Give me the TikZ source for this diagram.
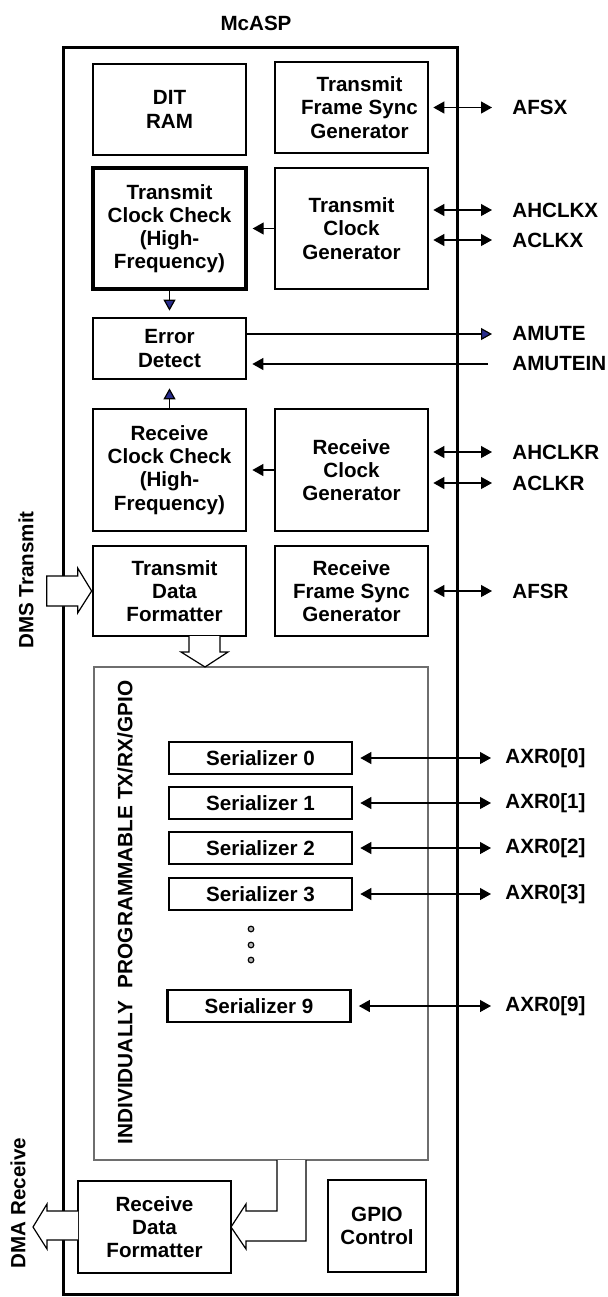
\documentclass[tikz,border=0pt]{standalone}
\usepackage{fontspec}
\setmainfont{Liberation Sans}
\usetikzlibrary{arrows.meta,calc}
\definecolor{navy}{RGB}{40,44,140}
\definecolor{progray}{RGB}{110,110,110}
\begin{document}
\begin{tikzpicture}[x=0.5pt,y=-0.5pt,
 txt/.style={font=\fontsize{10.3}{11.6}\selectfont\bfseries},
 blk/.style={draw, line width=1.35pt, align=center, inner sep=0pt, txt},
 col/.style={minimum width=76.5pt},
 ser/.style={blk, minimum width=91.5pt, minimum height=16pt},
 conn/.style={line width=0.6pt},
 tip/.style={-{Triangle[length=5.5pt,width=6pt]}},
 dbl/.style={conn,{Triangle[length=5.5pt,width=6pt]}-{Triangle[length=5.5pt,width=6pt]}, shorten <=2pt},
 bluetip/.style={conn,-{Triangle[length=5.5pt,width=6pt,fill=navy]}},
 hollow/.style={line width=0.6pt, fill=white},
 sig/.style={txt, anchor=west, inner sep=0pt},
 vtxt/.style={txt, rotate=90, inner sep=0pt},
]
\useasboundingbox (0,0) rectangle (608,1297);

\node[txt] (mcasp) at (256,23) {McASP};
\node[draw, line width=1.5pt, minimum width=197pt, minimum height=623.5pt, inner sep=0pt] (outer) at (260,670.5) {};

% blocks
\node[blk, col, minimum height=45.5pt] (dit) at (169.5,109.5) {DIT\\RAM};
\node[blk, col, minimum height=45.5pt] (tfsg) at (351.5,107.5) {\hspace*{8pt}Transmit\\\hspace*{8pt}Frame Sync\\\hspace*{8pt}Generator};
\node[blk, col, minimum height=60.5pt, line width=1.7pt] (tcc) at (169.5,228.5) {Transmit\\Clock Check\\(High-\\Frequency)};
\node[blk, col, minimum height=60.5pt] (tcg) at (351.5,228.5) {Transmit\\Clock\\Generator};
\node[blk, col, minimum height=30.5pt] (err) at (169.5,348.5) {Error\\Detect};
\node[blk, col, minimum height=61pt] (rcc) at (169.5,470) {Receive\\Clock Check\\(High-\\Frequency)};
\node[blk, col, minimum height=61pt] (rcg) at (351.5,470) {Receive\\Clock\\Generator};
\node[blk, col, minimum height=45pt] (tdf) at (169.5,591) {\hspace*{5pt}Transmit\\\hspace*{5pt}Data\\\hspace*{5pt}Formatter};
\node[blk, col, minimum height=45pt] (rfsg) at (351.5,591) {Receive\\Frame Sync\\Generator};

\node[draw=progray, line width=0.6pt, minimum width=167pt, minimum height=246.5pt, inner sep=0pt] (prog) at (261,913.5) {};
\node[vtxt, font=\fontsize{10.4}{12}\selectfont\bfseries] (progtxt) at (125,912.5) {INDIVIDUALLY\hspace{0.6em}PROGRAMMABLE TX/RX/GPIO};

\node[ser] (s0) at (260.5,758) {Serializer 0};
\node[ser] (s1) at (260.5,803) {Serializer 1};
\node[ser] (s2) at (260.5,848) {Serializer 2};
\node[ser] (s3) at (260.5,894) {Serializer 3};
\node[ser] (s9) at (259,1006) {Serializer 9};
\foreach \yy in {929,945,960}
  \draw[line width=0.6pt, fill=gray!55] (251,\yy) circle (2.8);

\node[blk, col, minimum height=46pt] (rdf) at (154.5,1227) {Receive\\Data\\Formatter};
\node[blk, minimum width=49pt, minimum height=46pt] (gpio) at (377,1226) {GPIO\\Control};

% side texts
\node[vtxt] (dms) at (26,580) {DMS Transmit};
\node[vtxt] (dma) at (18,1203) {DMA Receive};

% signal labels
\node[sig] (afsx) at (512,107.5) {AFSX};
\node[sig] (ahclkx) at (512,210) {AHCLKX};
\node[sig] (aclkx) at (512,240) {ACLKX};
\node[sig] (amute) at (512,334) {AMUTE};
\node[sig] (amutein) at (512,364) {AMUTEIN};
\node[sig] (ahclkr) at (512,452) {AHCLKR};
\node[sig] (aclkr) at (512,483) {ACLKR};
\node[sig] (afsr) at (512,591) {AFSR};
\node[sig] (x0) at (505,758) {AXR0[0]};
\node[sig] (x1) at (505,803) {AXR0[1]};
\node[sig] (x2) at (505,848) {AXR0[2]};
\node[sig] (x3) at (505,894) {AXR0[3]};
\node[sig] (x9) at (505,1006) {AXR0[9]};

% bidirectional pins
\draw[dbl, shorten >=10pt] (tfsg.east |- afsx.west) -- (afsx.west);
\draw[dbl, shorten >=10pt] (tcg.east |- ahclkx.west) -- (ahclkx.west);
\draw[dbl, shorten >=10pt] (tcg.east |- aclkx.west) -- (aclkx.west);
\draw[dbl, shorten >=10pt] (rcg.east |- ahclkr.west) -- (ahclkr.west);
\draw[dbl, shorten >=10pt] (rcg.east |- aclkr.west) -- (aclkr.west);
\draw[dbl, shorten >=10pt] (rfsg.east |- afsr.west) -- (afsr.west);
\draw[dbl, shorten <=3.5pt, shorten >=7pt] (s0.east) -- (s0.east -| x0.west);
\draw[dbl, shorten <=3.5pt, shorten >=7pt] (s1.east) -- (s1.east -| x1.west);
\draw[dbl, shorten <=3.5pt, shorten >=7pt] (s2.east) -- (s2.east -| x2.west);
\draw[dbl, shorten <=3.5pt, shorten >=7pt] (s3.east) -- (s3.east -| x3.west);
\draw[dbl, shorten <=3.5pt, shorten >=7pt] (s9.east) -- (s9.east -| x9.west);

% mute
\draw[bluetip, shorten >=10pt] (err.east |- amute.west) -- (amute.west);
\draw[conn, tip, shorten <=12pt, shorten >=2.5pt] (amutein.west) -- (err.east |- amutein.west);

% internal
\draw[conn, tip, shorten >=2.5pt] (tcg.west) -- (tcc.east);
\draw[conn, tip, shorten >=2.5pt] (rcg.west) -- (rcc.east);
\draw[bluetip, shorten >=3pt] (tcc.south) -- (err.north);
\draw[bluetip, shorten >=4pt] (rcc.north) -- (err.south);

% block arrows
\draw[hollow] (tdf.west) -- ++(-14,-23) -- ++(0,8) -- ++(-31,0) -- ++(0,30) -- ++(31,0) -- ++(0,7) -- cycle;
\draw[hollow] (189,636) -- (189,652) -- (181,652) -- (205,667) -- (228,652) -- (220,652) -- (220,636);
\draw[hollow] (277,1160) -- (277,1211) -- (246,1211) -- (246,1204) -- (231,1227) -- (246,1249) -- (246,1241) -- (306,1241) -- (306,1160);
\draw[hollow] (78,1211) -- (47,1211) -- (47,1204) -- (33,1227) -- (47,1249) -- (47,1240) -- (78,1240);
\end{tikzpicture}
\end{document}
